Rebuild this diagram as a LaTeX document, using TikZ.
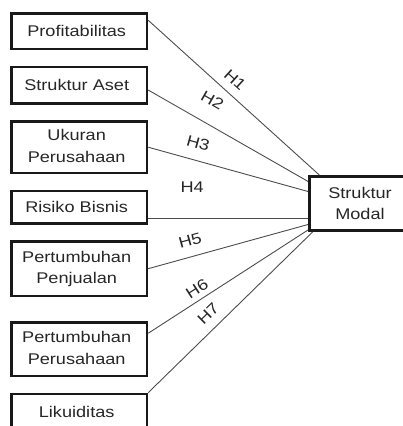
\documentclass[tikz,border=0pt]{standalone}
\usepackage{fontspec}
\setmainfont{Liberation Sans}[FakeStretch=1.17]
\usepackage{tikz}
\usetikzlibrary{matrix}
\usetikzlibrary{positioning}

\newcommand\twoline[2]{\begin{tabular}{@{}c@{}}#1\\#2\end{tabular}}

\tikzset{
  var/.style={draw=black!90, line width=2.6pt, text=black!85, align=center,
    minimum width=135.4pt, inner sep=0pt},
  hyp/.style={text=black!85, inner sep=0pt, sloped},
  link/.style={draw=black!70, line width=0.9pt}
}

\begin{document}
\begin{tikzpicture}[x=1pt,y=1pt]
\fontsize{15.5}{21.5}\selectfont
\useasboundingbox (0,0) rectangle (403,426);
\clip (0,0) rectangle (403,426);
\matrix [matrix of nodes, nodes={var}, anchor=north west, inner sep=0pt,
row sep=15.5pt] at (10,414)
{
|[minimum height=35.4pt](x1)|{Profitabilitas} \\
|[minimum height=36.4pt](x2)|{Struktur Aset} \\
|[minimum height=51.4pt](x3)|{\twoline{Ukuran}{Perusahaan}} \\
|[minimum height=32.4pt](x4)|{Risiko Bisnis} \\
|[minimum height=54.4pt](x5)|{\twoline{Pertumbuhan}{Penjualan}} \\[8.5pt]
|[minimum height=53.4pt](x6)|{\twoline{Pertumbuhan}{Perusahaan}} \\
|[minimum height=35.4pt](x7)|{Likuiditas} \\
};
\node[var, minimum width=101.4pt, minimum height=54.4pt] (y) at (360,222.5) {Struktur\\Modal};
\draw[link] (x1.9) -- (y.145) node[hyp, above=8.3pt, pos=0.453] (h1) {H1};
\draw[link] (x2.-4) -- (y.157) node[hyp, above=17.2pt, pos=0.33] (h2) {H2};
\draw[link] (x3.east) -- (y.167.5) node[hyp, above=11.3pt, pos=0.284] (h3) {H3};
\draw[link] (x4.-9) -- (x4.-9 -| y.west) node[hyp, above=25.6pt, pos=0.275] (h4) {H4};
\draw[link] (x5.east) -- (y.202.5) node[hyp, above=10.1pt, pos=0.289] (h5) {H5};
\draw[link] (x6.13) -- (y.207) node[hyp, above=4.6pt, pos=0.341] (h6) {H6};
\draw[link] (x7.north east) -- (y.211) node[hyp, above=8.9pt, pos=0.427] (h7) {H7};
\end{tikzpicture}
\end{document}
